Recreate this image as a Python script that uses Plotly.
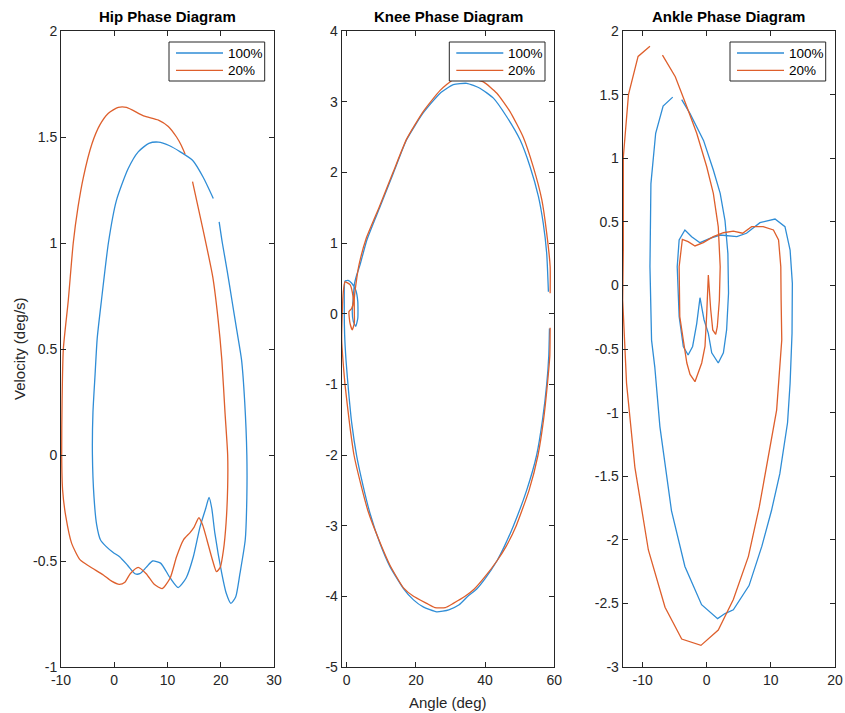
import plotly.graph_objects as go

# ---------------- data ----------------
series_names = ["100%", "20%"]

hip_x_100 = [19.7, 20.3, 21.2, 22.1, 23.0, 23.9, 24.5, 24.9, 24.9, 24.6, 23.6, 22.8, 21.9, 21.0, 20.2, 18.9, 18.3,
             17.8, 17.2, 16.1, 14.85, 13.5, 12.0, 10.5, 8.7, 7.2, 6.0, 4.8, 3.9, 2.5, 1.0, -0.2, -1.6, -2.6,
             -3.3, -3.8, -4.1, -4.0, -3.6, -3.2, -2.4, -1.1, 0.4, 2.6, 4.5, 6.5, 8.3, 10.3, 12.4, 14.7, 16.7, 18.6]
hip_y_100 = [1.10, 1.00, 0.87, 0.73, 0.59, 0.45, 0.25, 0.0, -0.2, -0.40, -0.56, -0.67, -0.70, -0.65, -0.56, -0.37, -0.25,
             -0.20, -0.25, -0.34, -0.48, -0.58, -0.625, -0.58, -0.51, -0.50, -0.53, -0.56, -0.56, -0.52, -0.48, -0.46, -0.43, -0.40,
             -0.33, -0.20, 0.0, 0.2, 0.38, 0.55, 0.73, 1.0, 1.2, 1.35, 1.43, 1.47, 1.476, 1.46, 1.43, 1.39, 1.31, 1.21]

hip_x_20 = [14.7, 16.7, 18.5, 19.5, 20.2, 20.8, 21.3, 21.3, 21.0, 20.5, 19.9, 19.2, 18.5, 17.4, 16.6, 15.9, 15.0, 14.2,
            13.0, 11.7, 10.5, 9.0, 7.5, 6.0, 4.5, 3.0, 2.0, 0.95, -0.5, -2.05, -4.55, -6.4, -8.0, -9.1, -9.7, -9.87,
            -9.8, -9.56, -8.63, -7.7, -6.8, -5.8, -4.2, -2.7, -1.1, 0.76, 2.3, 5.5, 8.3, 10.15, 11.7, 12.6, 13.3]
hip_y_20 = [1.29, 1.06, 0.84, 0.64, 0.45, 0.2, 0.0, -0.15, -0.32, -0.45, -0.53, -0.55, -0.50, -0.40, -0.33, -0.296, -0.34, -0.367,
            -0.40, -0.48, -0.58, -0.63, -0.61, -0.56, -0.53, -0.56, -0.60, -0.61, -0.595, -0.566, -0.527, -0.495, -0.417, -0.29, -0.165, 0.0,
            0.25, 0.5, 0.73, 1.0, 1.17, 1.31, 1.467, 1.557, 1.612, 1.64, 1.64, 1.60, 1.58, 1.55, 1.50, 1.46, 1.42]

knee_x_100 = [58.6, 58.4, 57.8, 56.6, 54.9, 52.0, 48.2, 45.5, 43.4, 40.0, 37.5, 35.0, 32.5, 29.5, 26.0, 22.1, 19.3,
              16.4, 12.5, 9.6, 6.7, 4.8, 2.9, 1.45, 0.5, -0.2, -0.6, -0.7, -0.5, 0.4, 1.45, 2.6, 3.2, 3.2, 2.6, 1.9,
              1.6, 1.9, 2.2, 2.9, 3.85, 5.8, 9.6, 13.5, 17.3, 22.1, 27.0, 30.8, 34.7, 38.5, 42.4, 46.2, 50.1, 53.0,
              55.4, 56.8, 57.8, 58.3]
knee_y_100 = [-0.21, -0.6, -1.0, -1.5, -2.0, -2.5, -3.0, -3.3, -3.5, -3.75, -3.9, -4.0, -4.12, -4.19, -4.22, -4.15, -4.05,
              -3.89, -3.58, -3.25, -2.82, -2.45, -2.02, -1.55, -1.08, -0.66, -0.3, 0.1, 0.46, 0.47, 0.43, 0.335, 0.17, -0.065, -0.18, -0.11,
              0.03, 0.22, 0.41, 0.55, 0.69, 1.04, 1.51, 1.99, 2.46, 2.84, 3.12, 3.24, 3.26, 3.19, 3.05, 2.79, 2.46, 2.08,
              1.66, 1.28, 0.855, 0.31]

knee_x_20 = [58.8, 58.7, 58.0, 56.9, 55.3, 52.7, 49.0, 46.0, 43.4, 39.5, 36.8, 34.2, 30.8, 28.5, 25.5, 23.1, 19.3,
             16.4, 12.5, 9.3, 6.2, 4.1, 2.1, 0.8, -0.5, -1.1, -1.45, -1.3, -1.0, -0.5, 0.95, 1.6, 1.9, 1.45, 0.66,
             0.95, 1.6, 2.2, 2.2, 2.2, 2.9, 3.55, 5.6, 9.5, 13.4, 17.3, 22.1, 27.0, 30.8, 34.5, 39.5, 43.4, 47.2,
             51.0, 53.9, 56.4, 57.8, 58.8, 58.8]
knee_y_20 = [-0.2, -0.6, -1.0, -1.5, -2.0, -2.5, -3.0, -3.3, -3.5, -3.75, -3.9, -4.0, -4.10, -4.16, -4.16, -4.10, -4.0,
             -3.88, -3.56, -3.2, -2.8, -2.42, -2.0, -1.55, -1.0, -0.65, -0.37, 0.0, 0.3, 0.45, 0.41, 0.31, 0.17, 0.075, 0.03,
             -0.135, -0.23, -0.135, 0.03, 0.22, 0.5, 0.69, 1.06, 1.52, 2.0, 2.47, 2.86, 3.16, 3.31, 3.33, 3.28, 3.12, 2.86,
             2.50, 2.08, 1.61, 1.14, 0.665, 0.29]

ankle_x_100 = [-3.9, -2.6, -0.5, 1.03, 2.1, 2.85, 3.3, 3.4, 3.1, 2.6, 1.8, 0.78, 0.25, -0.42, -1.05, -1.56, -2.2,
               -2.9, -3.65, -4.3, -4.6, -4.3, -3.4, -2.35, -1.05, 0.5, 2.1, 4.7, 6.2, 8.3, 10.65, 12.2, 13.0, 13.35,
               13.3, 13.0, 12.6, 11.4, 10.1, 8.6, 6.6, 4.15, 2.85, 1.7, -0.8, -3.4, -5.5, -7.3, -8.1, -8.6, -8.85,
               -8.7, -7.96, -6.8, -5.3]
ankle_y_100 = [1.46, 1.35, 1.14, 0.907, 0.724, 0.51, 0.25, -0.06, -0.35, -0.53, -0.61, -0.53, -0.377, -0.27, -0.097, -0.30, -0.48,
               -0.547, -0.48, -0.245, 0.147, 0.357, 0.436, 0.383, 0.336, 0.37, 0.396, 0.383, 0.41, 0.493, 0.522, 0.462, 0.278, 0.016,
               -0.377, -0.77, -1.08, -1.48, -1.77, -2.05, -2.36, -2.55, -2.58, -2.62, -2.51, -2.21, -1.77, -1.11, -0.64, -0.43, 0.147,
               0.80, 1.196, 1.41, 1.48]

ankle_x_20 = [-6.9, -4.9, -3.1, -1.56, 0.0, 1.03, 1.8, 2.1, 1.97, 1.65, 1.4, 0.94, 0.62, 0.25, 0.0, -0.27, -0.78,
              -1.83, -2.6, -3.1, -3.65, -4.2, -4.3, -3.8, -2.9, -1.83, -0.53, 1.03, 2.6, 4.15, 5.6, 7.0, 8.8, 10.4,
              11.2, 11.55, 11.6, 11.7, 10.9, 9.6, 8.2, 6.5, 4.15, 1.8, -0.9, -3.9, -6.5, -9.1, -11.2, -12.5, -12.85,
              -13.1, -13.0, -13.0, -12.2, -10.7, -8.85]
ankle_y_20 = [1.81, 1.64, 1.405, 1.196, 0.933, 0.724, 0.46, 0.147, -0.115, -0.325, -0.385, -0.35, -0.19, 0.082, -0.22, -0.48, -0.61,
              -0.757, -0.70, -0.61, -0.43, -0.245, 0.147, 0.362, 0.344, 0.31, 0.336, 0.383, 0.414, 0.427, 0.41, 0.462, 0.462, 0.436,
              0.357, 0.147, -0.115, -0.43, -0.98, -1.35, -1.74, -2.13, -2.47, -2.71, -2.83, -2.78, -2.53, -2.08, -1.43, -0.77, -0.43,
              -0.115, 0.278, 1.01, 1.50, 1.80, 1.88]

titles = ["Hip Phase Diagram", "Knee Phase Diagram", "Ankle Phase Diagram"]
x_label = "Angle (deg)"
y_label = "Velocity (deg/s)"

hip_xticks = [-10, 0, 10, 20, 30]
hip_yticks = [-1, -0.5, 0, 0.5, 1, 1.5, 2]
hip_yticklabels = ["-1", "-0.5", "0", "0.5", "1", "1.5", "2"]
knee_xticks = [0, 20, 40, 60]
knee_yticks = [-5, -4, -3, -2, -1, 0, 1, 2, 3, 4]
knee_yticklabels = ["-5", "-4", "-3", "-2", "-1", "0", "1", "2", "3", "4"]
ankle_xticks = [-10, 0, 10, 20]
ankle_yticks = [-3, -2.5, -2, -1.5, -1, -0.5, 0, 0.5, 1, 1.5, 2]
ankle_yticklabels = ["-3", "-2.5", "-2", "-1.5", "-1", "-0.5", "0", "0.5", "1", "1.5", "2"]

# ---------------- styling ----------------
W, H = 845, 713
BLUE = "#2F8DD6"
ORANGE = "#DE5F2C"
AX = "#262626"
FONT = "Liberation Sans, Arial, Helvetica, sans-serif"
LW = 1.3

# plot areas in pixels (left, right)
areas = [(61, 274), (341.7, 554.3), (622.7, 835)]
top_px, bot_px = 31, 667
ydom = [1 - bot_px / H, 1 - top_px / H]

fig = go.Figure()

data = [
    (hip_x_100, hip_y_100, hip_x_20, hip_y_20),
    (knee_x_100, knee_y_100, knee_x_20, knee_y_20),
    (ankle_x_100, ankle_y_100, ankle_x_20, ankle_y_20),
]
shapes_kind = ["spline", "spline", "linear"]
smooth = [0.6, 0.5, 0]

for i, (xa, ya, xb, yb) in enumerate(data):
    sfx = "" if i == 0 else str(i + 1)
    fig.add_trace(go.Scatter(x=xa, y=ya, mode="lines", name=series_names[0], showlegend=False,
                             line=dict(color=BLUE, width=LW, shape=shapes_kind[i], smoothing=smooth[i]),
                             xaxis="x" + sfx, yaxis="y" + sfx))
    fig.add_trace(go.Scatter(x=xb, y=yb, mode="lines", name=series_names[1], showlegend=False,
                             line=dict(color=ORANGE, width=LW, shape=shapes_kind[i], smoothing=smooth[i]),
                             xaxis="x" + sfx, yaxis="y" + sfx))

axis_common = dict(showline=True, linecolor=AX, linewidth=1, mirror="allticks", ticks="inside",
                   ticklen=5, tickcolor=AX, tickwidth=1, showgrid=False, zeroline=False,
                   tickfont=dict(family=FONT, size=14, color=AX), automargin=False)

xranges = [[-10, 30], [-1.45, 60], [-13.1, 20]]
yranges = [[-1, 2], [-5, 4], [-3, 2]]
xticks = [hip_xticks, knee_xticks, ankle_xticks]
yticks = [(hip_yticks, hip_yticklabels), (knee_yticks, knee_yticklabels), (ankle_yticks, ankle_yticklabels)]

layout = dict(
    width=W, height=H,
    margin=dict(l=0, r=0, t=0, b=0),
    paper_bgcolor="white", plot_bgcolor="white",
    font=dict(family=FONT, color=AX),
    showlegend=False,
)

for i in range(3):
    sfx = "" if i == 0 else str(i + 1)
    l, r = areas[i]
    xt = xticks[i]
    layout["xaxis" + sfx] = dict(axis_common, domain=[l / W, r / W], range=xranges[i],
                                 tickvals=xt, ticktext=[str(v) for v in xt],
                                 anchor="y" + sfx)
    layout["yaxis" + sfx] = dict(axis_common, domain=ydom, range=yranges[i],
                                 tickvals=yticks[i][0], ticktext=yticks[i][1],
                                 anchor="x" + sfx)

fig.update_layout(**layout)

# ---- per-panel legends (box, line samples and labels) ----
shapes = []
annotations = []
for i in range(3):
    l, r = areas[i]
    bx0, bx1 = r - 105, r - 9.3
    by0, by1 = 42, 81
    shapes.append(dict(type="rect", xref="paper", yref="paper", layer="above",
                       x0=bx0 / W, x1=bx1 / W, y0=1 - by1 / H, y1=1 - by0 / H,
                       line=dict(color=AX, width=1), fillcolor="white"))
    for j, (col, yy) in enumerate([(BLUE, 53), (ORANGE, 70.3)]):
        shapes.append(dict(type="line", xref="paper", yref="paper", layer="above",
                           x0=(bx0 + 7) / W, x1=(bx0 + 54) / W, y0=1 - yy / H, y1=1 - yy / H,
                           line=dict(color=col, width=LW)))
        annotations.append(dict(text=series_names[j], x=(bx0 + 56.5) / W, y=1 - yy / H,
                                xref="paper", yref="paper", xanchor="left", yanchor="middle",
                                showarrow=False, font=dict(family=FONT, size=13.5, color="black")))

for i in range(3):
    l, r = areas[i]
    annotations.append(dict(text="<b>" + titles[i] + "</b>", x=(l + r) / 2 / W, y=1 - 27 / H,
                            xref="paper", yref="paper", xanchor="center", yanchor="bottom",
                            showarrow=False, font=dict(family=FONT, size=15, color="black")))
annotations.append(dict(text=x_label, x=(areas[1][0] + areas[1][1]) / 2 / W, y=1 - 692 / H,
                        xref="paper", yref="paper", xanchor="center", yanchor="top",
                        showarrow=False, font=dict(family=FONT, size=15, color=AX)))
annotations.append(dict(text=y_label, x=19 / W, y=1 - 349 / H, textangle=-90,
                        xref="paper", yref="paper", xanchor="center", yanchor="middle",
                        showarrow=False, font=dict(family=FONT, size=15, color=AX)))
fig.update_layout(annotations=annotations, shapes=shapes)

fig.write_html("out.html", config={"displayModeBar": False},
               post_script="document.body.style.margin='0px';document.body.style.overflow='hidden';")
